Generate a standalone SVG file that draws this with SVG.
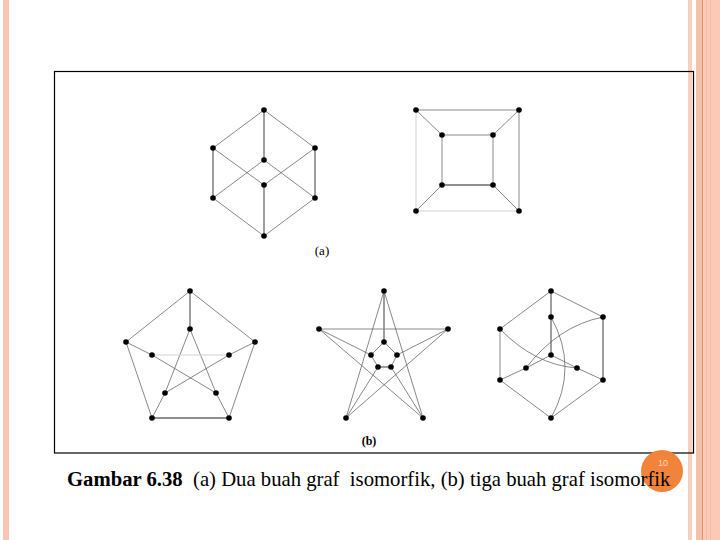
<svg xmlns="http://www.w3.org/2000/svg" width="720" height="540" viewBox="0 0 720 540">
<style>
.e{stroke:#555;stroke-width:0.7;fill:none}
.v{stroke:#6a6a6a;stroke-width:1.3;fill:none}
.m{stroke:#8a8a8a;stroke-width:1;fill:none}
.lt{stroke:#d2d2d2;stroke-width:1;fill:none}
.n{fill:#000}
.lbl{font-family:"Liberation Serif",serif;fill:#000}
</style>
<rect x="0" y="0" width="720" height="540" fill="#fff"/>
<g id="decor">
<rect x="3" y="0" width="6" height="540" fill="#f7c5b1"/>
<rect x="688" y="0" width="4" height="540" fill="#f9cfbd"/>
<rect x="696" y="0" width="6" height="540" fill="#f6c0a9"/>
<rect x="702" y="0" width="1.3" height="540" fill="#e4906c"/>
<rect x="703.3" y="0" width="16.7" height="540" fill="#fbc9b6"/>
<rect x="706" y="0" width="0.8" height="540" fill="#f3b8a0"/>
<rect x="710" y="0" width="0.8" height="540" fill="#f3b8a0"/>
</g>
<rect id="frame" x="54.5" y="71.5" width="639" height="381.5" fill="none" stroke="#000" stroke-width="1.2"/>
<g id="connectors">
<line class="e" x1="264" y1="110" x2="213" y2="148"/>
<line class="e" x1="264" y1="110" x2="315" y2="148"/>
<line class="v" x1="264" y1="110" x2="264" y2="160"/>
<line class="v" x1="213" y1="148" x2="213" y2="198"/>
<line class="v" x1="315" y1="148" x2="315" y2="198"/>
<line class="e" x1="213" y1="148" x2="264" y2="185"/>
<line class="e" x1="315" y1="148" x2="264" y2="185"/>
<line class="e" x1="264" y1="160" x2="213" y2="198"/>
<line class="e" x1="264" y1="160" x2="315" y2="198"/>
<line class="e" x1="213" y1="198" x2="264" y2="236"/>
<line class="e" x1="315" y1="198" x2="264" y2="236"/>
<line class="v" x1="264" y1="185" x2="264" y2="236"/>
<line class="m" x1="416" y1="110" x2="519" y2="110"/>
<line class="m" x1="519" y1="110" x2="519" y2="211"/>
<line class="lt" x1="416" y1="110" x2="416" y2="211"/>
<line class="lt" x1="416" y1="211" x2="519" y2="211"/>
<line class="e" x1="416" y1="110" x2="442" y2="135"/>
<line class="e" x1="519" y1="110" x2="493" y2="135"/>
<line class="e" x1="416" y1="211" x2="442" y2="185"/>
<line class="e" x1="519" y1="211" x2="493" y2="185"/>
<line class="m" x1="442" y1="135" x2="493" y2="135"/>
<line class="m" x1="442" y1="135" x2="442" y2="185"/>
<line class="m" x1="493" y1="135" x2="493" y2="185"/>
<line class="v" x1="442" y1="185" x2="493" y2="185"/>
<line class="e" x1="190" y1="291" x2="126" y2="342"/>
<line class="e" x1="190" y1="291" x2="255" y2="342"/>
<line class="e" x1="126" y1="342" x2="152" y2="418"/>
<line class="e" x1="255" y1="342" x2="229" y2="418"/>
<line class="v" x1="152" y1="418" x2="229" y2="418"/>
<line class="v" x1="190" y1="291" x2="190" y2="329"/>
<line class="e" x1="126" y1="342" x2="152" y2="355"/>
<line class="e" x1="255" y1="342" x2="229" y2="355"/>
<line class="e" x1="152" y1="418" x2="165" y2="393"/>
<line class="e" x1="229" y1="418" x2="216" y2="393"/>
<line class="e" x1="190" y1="329" x2="165" y2="393"/>
<line class="e" x1="190" y1="329" x2="216" y2="393"/>
<line class="lt" x1="152" y1="355" x2="229" y2="355"/>
<line class="e" x1="152" y1="355" x2="216" y2="393"/>
<line class="e" x1="229" y1="355" x2="165" y2="393"/>
<line class="v" x1="384" y1="291" x2="384" y2="342"/>
<line class="m" x1="319" y1="329" x2="448" y2="329"/>
<line class="e" x1="384" y1="291" x2="346" y2="418"/>
<line class="e" x1="384" y1="291" x2="423" y2="418"/>
<line class="e" x1="319" y1="329" x2="423" y2="418"/>
<line class="e" x1="448" y1="329" x2="346" y2="418"/>
<line class="e" x1="319" y1="329" x2="371" y2="355"/>
<line class="e" x1="448" y1="329" x2="397" y2="355"/>
<line class="e" x1="346" y1="418" x2="378" y2="367"/>
<line class="e" x1="423" y1="418" x2="391" y2="367"/>
<line class="e" x1="384" y1="342" x2="371" y2="355"/>
<line class="e" x1="384" y1="342" x2="397" y2="355"/>
<line class="e" x1="371" y1="355" x2="378" y2="367"/>
<line class="e" x1="397" y1="355" x2="391" y2="367"/>
<line class="v" x1="378" y1="367" x2="391" y2="367"/>
<line class="e" x1="551" y1="291" x2="500" y2="329"/>
<line class="e" x1="551" y1="291" x2="603" y2="317"/>
<line class="v" x1="551" y1="291" x2="551" y2="317"/>
<line class="v" x1="551" y1="317" x2="551" y2="355"/>
<line class="m" x1="500" y1="329" x2="500" y2="380"/>
<line class="v" x1="603" y1="317" x2="603" y2="380"/>
<line class="e" x1="500" y1="380" x2="551" y2="418"/>
<line class="e" x1="603" y1="380" x2="551" y2="418"/>
<line class="e" x1="551" y1="355" x2="526" y2="368"/>
<line class="e" x1="526" y1="368" x2="500" y2="380"/>
<line class="e" x1="551" y1="355" x2="577" y2="368"/>
<line class="e" x1="577" y1="368" x2="603" y2="380"/>
<path class="e" d="M500,329 Q535,365 577,368"/>
<path class="e" d="M603,317 Q558,326 526,368"/>
<path class="e" d="M551,317 Q579,367.5 551,418"/>
</g>
<g id="g1-t"><circle class="n" cx="264" cy="110" r="2.8"/></g>
<g id="g1-ul"><circle class="n" cx="213" cy="148" r="2.8"/></g>
<g id="g1-ur"><circle class="n" cx="315" cy="148" r="2.8"/></g>
<g id="g1-cu"><circle class="n" cx="264" cy="160" r="2.8"/></g>
<g id="g1-cl"><circle class="n" cx="264" cy="185" r="2.8"/></g>
<g id="g1-ll"><circle class="n" cx="213" cy="198" r="2.8"/></g>
<g id="g1-lr"><circle class="n" cx="315" cy="198" r="2.8"/></g>
<g id="g1-b"><circle class="n" cx="264" cy="236" r="2.8"/></g>
<g id="g2-otl"><circle class="n" cx="416" cy="110" r="2.8"/></g>
<g id="g2-otr"><circle class="n" cx="519" cy="110" r="2.8"/></g>
<g id="g2-obl"><circle class="n" cx="416" cy="211" r="2.8"/></g>
<g id="g2-obr"><circle class="n" cx="519" cy="211" r="2.8"/></g>
<g id="g2-itl"><circle class="n" cx="442" cy="135" r="2.8"/></g>
<g id="g2-itr"><circle class="n" cx="493" cy="135" r="2.8"/></g>
<g id="g2-ibl"><circle class="n" cx="442" cy="185" r="2.8"/></g>
<g id="g2-ibr"><circle class="n" cx="493" cy="185" r="2.8"/></g>
<g id="g3-t"><circle class="n" cx="190" cy="291" r="2.8"/></g>
<g id="g3-it"><circle class="n" cx="190" cy="329" r="2.8"/></g>
<g id="g3-lo"><circle class="n" cx="126" cy="342" r="2.8"/></g>
<g id="g3-ro"><circle class="n" cx="255" cy="342" r="2.8"/></g>
<g id="g3-il"><circle class="n" cx="152" cy="355" r="2.8"/></g>
<g id="g3-ir"><circle class="n" cx="229" cy="355" r="2.8"/></g>
<g id="g3-ill"><circle class="n" cx="165" cy="393" r="2.8"/></g>
<g id="g3-ilr"><circle class="n" cx="216" cy="393" r="2.8"/></g>
<g id="g3-bl"><circle class="n" cx="152" cy="418" r="2.8"/></g>
<g id="g3-br"><circle class="n" cx="229" cy="418" r="2.8"/></g>
<g id="g4-t"><circle class="n" cx="384" cy="291" r="2.8"/></g>
<g id="g4-l"><circle class="n" cx="319" cy="329" r="2.8"/></g>
<g id="g4-r"><circle class="n" cx="448" cy="329" r="2.8"/></g>
<g id="g4-bl"><circle class="n" cx="346" cy="418" r="2.8"/></g>
<g id="g4-br"><circle class="n" cx="423" cy="418" r="2.8"/></g>
<g id="g4-it"><circle class="n" cx="384" cy="342" r="2.8"/></g>
<g id="g4-il"><circle class="n" cx="371" cy="355" r="2.8"/></g>
<g id="g4-ir"><circle class="n" cx="397" cy="355" r="2.8"/></g>
<g id="g4-ill"><circle class="n" cx="378" cy="367" r="2.8"/></g>
<g id="g4-ilr"><circle class="n" cx="391" cy="367" r="2.8"/></g>
<g id="g5-t"><circle class="n" cx="551" cy="291" r="2.8"/></g>
<g id="g5-it"><circle class="n" cx="551" cy="317" r="2.8"/></g>
<g id="g5-ul"><circle class="n" cx="500" cy="329" r="2.8"/></g>
<g id="g5-ur"><circle class="n" cx="603" cy="317" r="2.8"/></g>
<g id="g5-c"><circle class="n" cx="551" cy="355" r="2.8"/></g>
<g id="g5-il"><circle class="n" cx="526" cy="368" r="2.8"/></g>
<g id="g5-ir"><circle class="n" cx="577" cy="368" r="2.8"/></g>
<g id="g5-ll"><circle class="n" cx="500" cy="380" r="2.8"/></g>
<g id="g5-lr"><circle class="n" cx="603" cy="380" r="2.8"/></g>
<g id="g5-b"><circle class="n" cx="551" cy="418" r="2.8"/></g>
<text class="lbl" x="322" y="255" font-size="13" text-anchor="middle">(a)</text>
<text class="lbl" x="369" y="445" font-size="12" font-weight="bold" text-anchor="middle">(b)</text>
<g id="pagenum">
<circle cx="662" cy="471" r="21" fill="#f2833a"/>
<text x="663" y="466" font-family="Liberation Sans,sans-serif" font-size="9" fill="#fbd9bf" text-anchor="middle">10</text>
</g>
<text class="lbl" x="67" y="486" font-size="20.7" xml:space="preserve"><tspan font-weight="bold">Gambar 6.38</tspan>  (a) Dua buah graf  isomorfik, (b) tiga buah graf isomorfik</text>
</svg>
